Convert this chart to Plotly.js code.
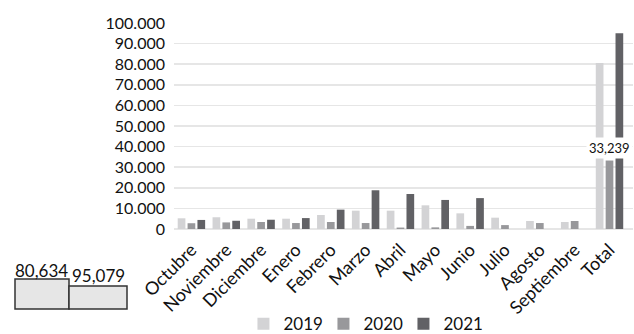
<!DOCTYPE html>
<html>
<head>
<meta charset="utf-8">
<script src="https://cdn.plot.ly/plotly-3.0.1.min.js"></script>
<style>html,body{margin:0;padding:0;background:#fff;}#chart{width:634px;height:334px;}</style>
</head>
<body>
<div id="chart"></div>
<script>
const categories = ["Octubre","Noviembre","Diciembre","Enero","Febrero","Marzo","Abril","Mayo","Junio","Julio","Agosto","Septiembre","Total"];
const seriesNames = ["2019","2020","2021"];
const values2019 = [5200,5700,5000,5000,6800,8900,8900,11500,7600,5500,3900,3400,80634];
const values2020 = [2800,3200,3400,2900,3400,2900,700,800,1500,1900,2900,3900,33239];
const values2021 = [4400,4000,4500,5300,9400,18800,17000,14100,15000,null,null,null,95079];
const yTicks = [0,10000,20000,30000,40000,50000,60000,70000,80000,90000,100000];
const labelTotal2020 = "33,239";
const labelTotal2019 = "80,634";
const labelTotal2021 = "95,079";

const colors = ["#d3d3d5","#98989b","#616165"];
const font = "Lato, 'Open Sans', sans-serif";

const traces = [values2019, values2020, values2021].map((v, i) => ({
  type: "bar",
  name: seriesNames[i],
  x: categories,
  y: v,
  marker: {color: colors[i]},
  hoverinfo: "skip"
}));

const layout = {
  width: 634, height: 334,
  margin: {l: 174, r: 1, t: 23, b: 105, autoexpand: false},
  paper_bgcolor: "#fff", plot_bgcolor: "#fff",
  separators: ",.",
  font: {family: font, size: 16, color: "#111"},
  barmode: "group",
  bargap: 0.15,
  bargroupgap: 0.22,
  showlegend: true,
  legend: {orientation: "h", xref: "container", x: 0.384, xanchor: "left", yref: "paper", y: -0.462, yanchor: "middle",
           font: {family: font, size: 17, color: "#111"}, itemwidth: 30, tracegroupgap: 0, entrywidth: 35},
  xaxis: {tickangle: -45, showgrid: false, showline: false, ticks: "", automargin: false, ticklabelstandoff: 6,
          tickfont: {family: font, size: 18, color: "#111"}},
  yaxis: {range: [0, 100000], tickvals: yTicks, tickformat: ",d", showgrid: true,
          gridcolor: "#e6e6e6", gridwidth: 1.5, zeroline: true, zerolinecolor: "#e6e6e6", zerolinewidth: 1.5,
          ticks: "", ticklabelstandoff: 8, automargin: false,
          tickfont: {family: font, size: 16, color: "#111"}},
  shapes: [
    {type: "rect", xref: "paper", yref: "paper", x0: -159/459, x1: -105/459, y0: (229-279)/206, y1: (229-309)/206,
     fillcolor: "#e6e6e6", line: {color: "#333", width: 1.5}},
    {type: "rect", xref: "paper", yref: "paper", x0: -105/459, x1: -47/459, y0: (229-286)/206, y1: (229-309)/206,
     fillcolor: "#e6e6e6", line: {color: "#333", width: 1.5}}
  ],
  annotations: [
    {x: categories[12], y: values2020[12], xref: "x", yref: "y", text: labelTotal2020, showarrow: false,
     yanchor: "bottom", yshift: 2, bgcolor: "#fff", borderpad: 2,
     font: {family: font, size: 13, color: "#111"}},
    {xref: "paper", yref: "paper", x: (41-174)/459, y: (229-270)/206, xanchor: "center", yanchor: "middle",
     text: labelTotal2019, showarrow: false, font: {family: font, size: 17, color: "#111"}},
    {xref: "paper", yref: "paper", x: (98-174)/459, y: (229-275)/206, xanchor: "center", yanchor: "middle",
     text: labelTotal2021, showarrow: false, font: {family: font, size: 17, color: "#111"}}
  ]
};

Plotly.newPlot("chart", traces, layout, {displayModeBar: false, staticPlot: true});
</script>
</body>
</html>
